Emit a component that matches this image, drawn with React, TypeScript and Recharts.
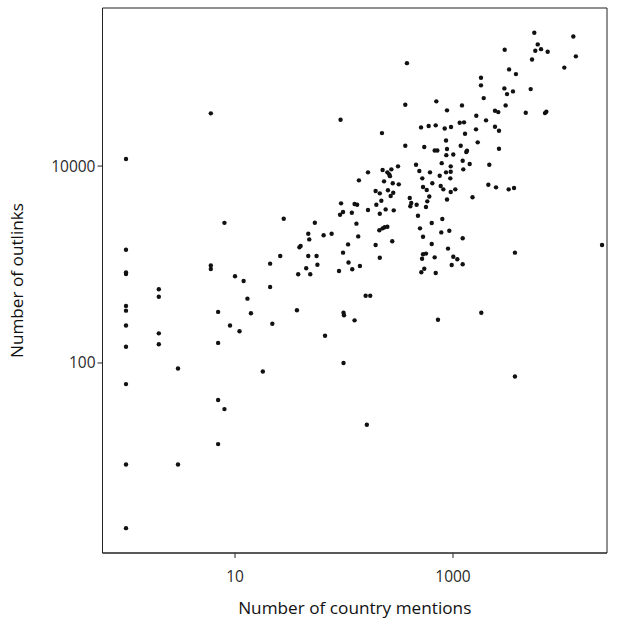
import React from 'react';
import { ScatterChart, Scatter, XAxis, YAxis, ReferenceArea, Label } from 'recharts';

// Number of country mentions (x) for each point
const countryMentions: number[] = [
  6, 1, 8, 1, 1, 1, 6, 6, 21, 10,
  12, 21, 2, 2, 1, 1, 13, 7, 14, 22,
  1, 2, 9, 11, 2, 7, 1, 3, 18, 1,
  7, 8, 7, 1, 3, 1, 313, 166, 226, 272,
  250, 260, 264, 137, 233, 280, 318, 195, 213, 253,
  283, 268, 220, 198, 94, 125, 132, 166, 241, 286,
  118, 98, 92, 213, 28, 54, 130, 211, 226, 236,
  250, 47, 65, 77, 135, 48, 277, 39, 40, 109,
  195, 98, 26, 47, 56, 213, 110, 140, 57, 45,
  119, 90, 38, 49, 158, 174, 37, 99, 100, 125,
  67, 99, 162, 1806, 1913, 365, 703, 1209, 881, 2428,
  2603, 1636, 2009, 509, 598, 694, 839, 959, 1152, 1262,
  2428, 1626, 2642, 1289, 863, 1685, 365, 545, 679, 718,
  881, 1177, 1344, 1324, 2642, 868, 1006, 1227, 788, 1423,
  2153, 458, 953, 491, 615, 863, 953, 1243, 755, 523,
  945, 646, 2109, 2481, 531, 574, 771, 815, 1050, 953,
  401, 606, 1510, 881, 581, 414, 406, 464, 565, 477,
  798, 638, 498, 781, 925, 531, 1227, 638, 900, 531,
  565, 520, 679, 1006, 1095, 973, 1227, 545, 512, 694,
  728, 1818, 378, 1806, 93, 223, 5570, 12700, 5990, 5690,
  6420, 7390, 2980, 13400, 5310, 10500, 3270, 3780, 2960, 3130,
  3550, 5160, 3040, 4650, 6980, 7180, 3240, 3630, 23300, 3700, 3700,
];

// Number of outlinks (y) for each point
const outlinks: number[] = [
  34300, 11800, 2650, 1410, 830, 800, 980, 900, 1020, 760,
  680, 590, 560, 470, 380, 340, 450, 330, 320, 250,
  240, 200, 240, 210, 155, 160, 146, 88, 82, 61,
  42, 34, 15, 9.3, 9.3, 2.1, 9930, 8630, 9110, 9260,
  8630, 8240, 7900, 7160, 6990, 6680, 6520, 5580, 5280, 5670,
  5360, 4960, 4440, 4050, 4180, 4110, 4050, 3575, 3630, 3550,
  3360, 3410, 3200, 3280, 2920, 2660, 2600, 2225, 2330, 2390,
  2420, 2055, 1980, 2055, 1930, 1800, 1720, 1495, 1540, 1600,
  1580, 1320, 1220, 1220, 1220, 1170, 1050, 966, 995, 915,
  894, 859, 795, 795, 482, 482, 343, 324, 305, 271,
  189, 100, 23.6, 66000, 49000, 41900, 45400, 41300, 36800, 36400,
  35300, 32400, 29100, 24700, 25500, 25900, 24100, 24900, 27500, 27800,
  25100, 23600, 22800, 21300, 18200, 17400, 16100, 15600, 14400, 14400,
  14900, 16100, 14300, 13900, 15000, 12900, 13100, 11300, 10700, 10500,
  10300, 10300, 9930, 8900, 8630, 8630, 8750, 9260, 7970, 7500,
  7500, 6680, 6460, 6080, 6120, 5710, 6270, 5800, 5800, 5450,
  4730, 4900, 4820, 4570, 4380, 4210, 3900, 4050, 3835, 3130,
  2900, 2640, 2330, 2120, 2200, 1915, 1845, 1615, 1450, 1270,
  1290, 1145, 1183, 1200, 1130, 988, 1005, 907, 833, 820,
  275, 324, 111000, 78800, 29500, 21600, 226000, 207000, 172000, 148000,
  154000, 145000, 152000, 130000, 121000, 100000, 95900, 85900, 61500, 53800,
  57300, 60500, 41300, 34800, 34500, 35600, 5800, 5980, 1580, 1320, 73,
];

const xTicks = [10, 1000];
const yTicks = [100, 10000];
const xDomain: [number, number] = [0.6087, 25870];
const yDomain: [number, number] = [1.175, 402900];

const data = countryMentions.map((x, i) => ({ x, y: outlinks[i] }));

const FONT = "'Open Sans', sans-serif";

const Dot = (props: any) => (
  <circle cx={props.cx} cy={props.cy} r={2.2} fill="#111" />
);

export default function App() {
  return (
    <div style={{ position: 'absolute', left: 0, top: 0, background: '#fff' }}>
      <ScatterChart
        width={620}
        height={622}
        margin={{ top: 8, right: 13, bottom: 0, left: 0 }}
      >
        <XAxis
          type="number"
          dataKey="x"
          scale="log"
          domain={xDomain}
          allowDataOverflow
          ticks={xTicks}
          interval={0}
          height={69}
          tickSize={5}
          tickMargin={13}
          tickFormatter={(v: number) => String(v)}
          axisLine={{ stroke: '#222', strokeWidth: 1 }}
          tickLine={{ stroke: '#222', strokeWidth: 1 }}
          tick={{ fill: '#2b2b2b', fontSize: 15.5, fontFamily: FONT }}
        >
          <Label
            value="Number of country mentions"
            position="insideBottom"
            offset={8}
            style={{ fill: '#111', fontSize: 17.2, fontFamily: FONT }}
          />
        </XAxis>
        <YAxis
          type="number"
          dataKey="y"
          scale="log"
          domain={yDomain}
          allowDataOverflow
          ticks={yTicks}
          interval={0}
          width={102.5}
          tickSize={5}
          tickMargin={2}
          tickFormatter={(v: number) => String(v)}
          axisLine={{ stroke: '#222', strokeWidth: 1 }}
          tickLine={{ stroke: '#222', strokeWidth: 1 }}
          tick={{ fill: '#2b2b2b', fontSize: 15.5, fontFamily: FONT }}
        >
          <Label
            value="Number of outlinks"
            angle={-90}
            position="insideLeft"
            offset={17}
            style={{ fill: '#111', fontSize: 17.2, fontFamily: FONT, textAnchor: 'middle' }}
          />
        </YAxis>
        <ReferenceArea
          x1={xDomain[0]}
          x2={xDomain[1]}
          y1={yDomain[0]}
          y2={yDomain[1]}
          fill="none"
          stroke="#222"
          strokeWidth={1}
          ifOverflow="visible"
        />
        <Scatter data={data} isAnimationActive={false} shape={<Dot />} />
      </ScatterChart>
    </div>
  );
}
